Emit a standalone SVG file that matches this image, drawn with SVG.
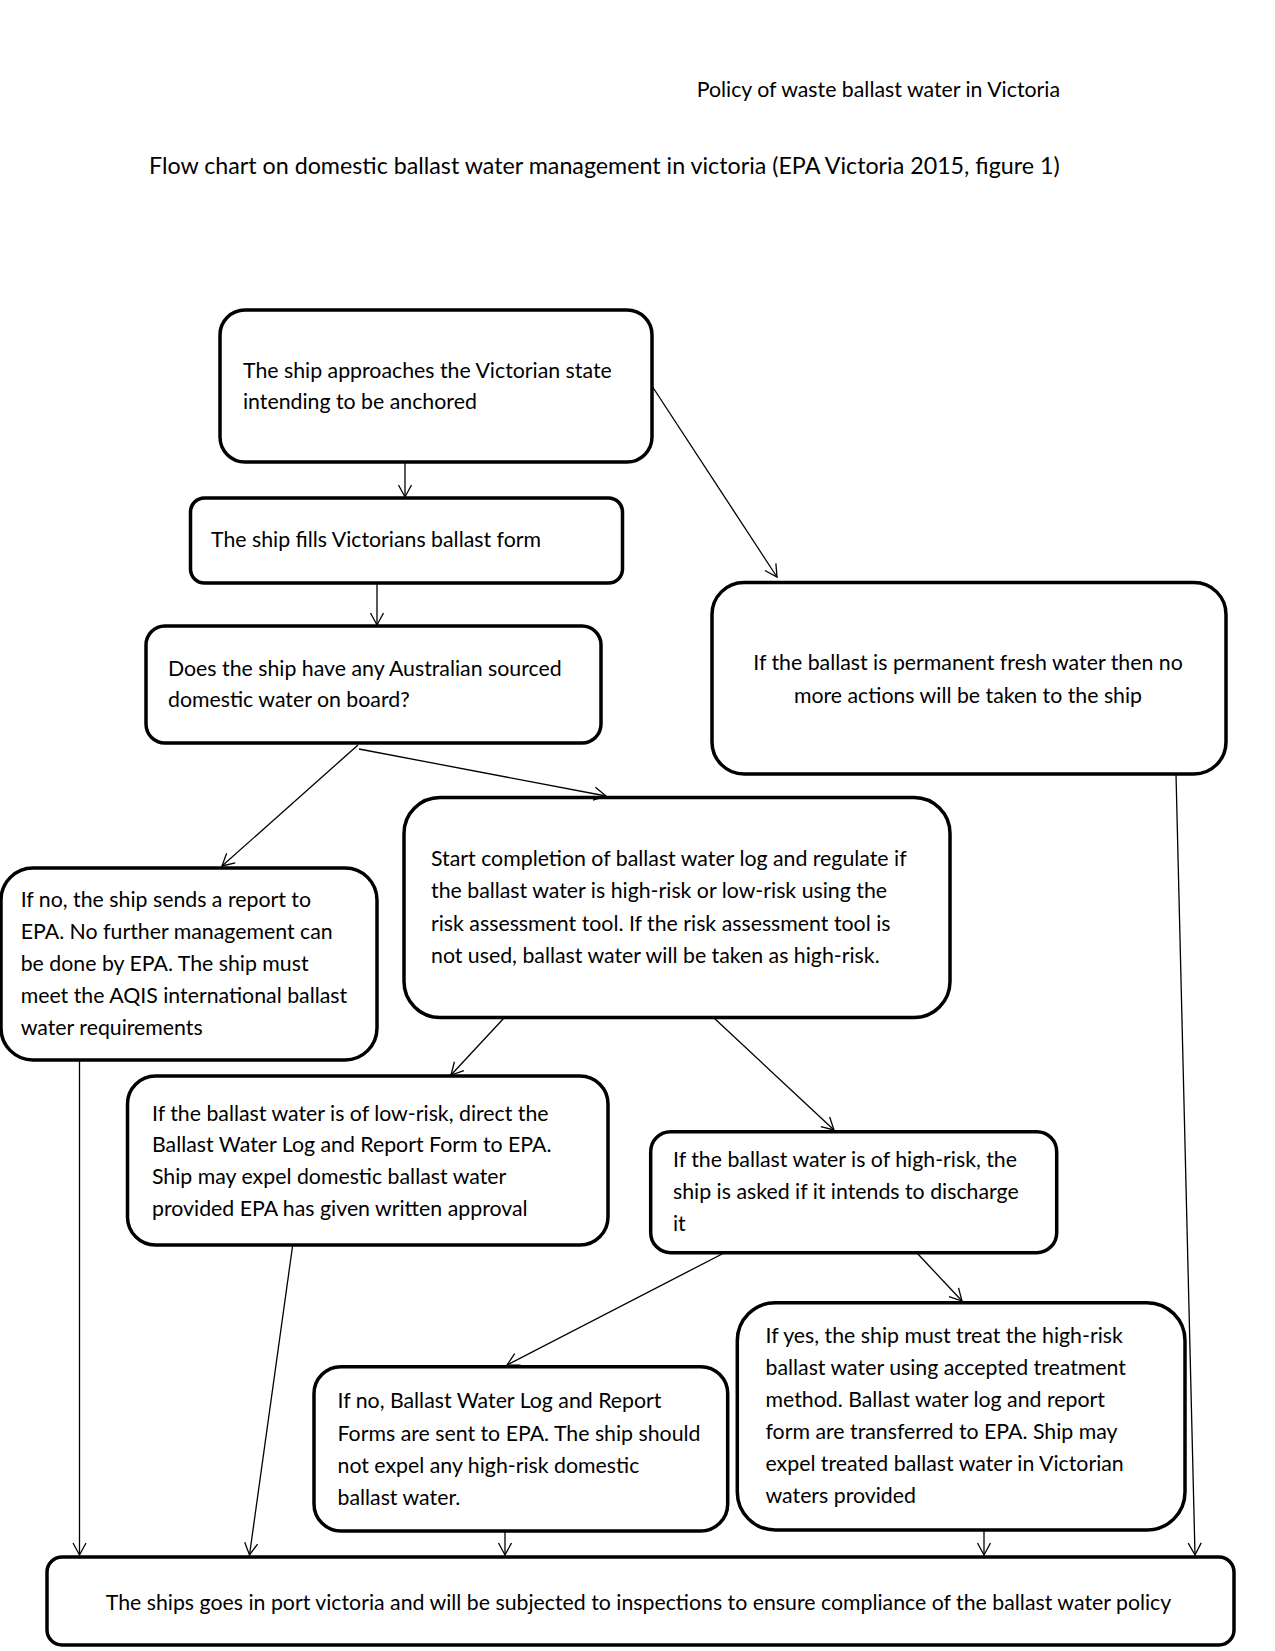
<svg xmlns="http://www.w3.org/2000/svg" width="1275" height="1651" viewBox="0 0 1275 1651">
<style>
.box{fill:#fff;stroke:#000;stroke-width:3.5}
.t{font-family:Lato,"Liberation Sans",sans-serif;font-size:21.3px;fill:#000}
.h{font-family:Lato,"Liberation Sans",sans-serif;fill:#000}
.c line{stroke:#000;stroke-width:1.3;marker-end:url(#ah)}
</style>
<defs>
<marker id="ah" markerUnits="userSpaceOnUse" markerWidth="16" markerHeight="16" refX="12" refY="6.5" orient="auto" overflow="visible">
<path d="M0,0 L12,6.5 L0,13" fill="none" stroke="#000" stroke-width="1.3"/>
</marker>
</defs>
<rect width="1275" height="1651" fill="#fff"/>
<text class="h" x="1060" y="97" font-size="21.3" text-anchor="end">Policy of waste ballast water in Victoria</text>
<text class="h" x="149" y="174" font-size="23.25">Flow chart on domestic ballast water management in victoria (EPA Victoria 2015, figure 1)</text>

<g id="n1"><rect class="box" x="220" y="310" width="432" height="152" rx="25"/>
<text class="t" x="243" y="378">The ship approaches the Victorian state</text>
<text class="t" x="243" y="409">intending to be anchored</text></g>

<g id="n2"><rect class="box" x="190.5" y="498" width="432" height="85" rx="14"/>
<text class="t" x="211" y="547">The ship fills Victorians ballast form</text></g>

<g id="n3"><rect class="box" x="146" y="626" width="455" height="117" rx="19"/>
<text class="t" x="168" y="676">Does the ship have any Australian sourced</text>
<text class="t" x="168" y="707">domestic water on board?</text></g>

<g id="n4"><rect class="box" x="712" y="582.5" width="514" height="191.5" rx="32"/>
<text class="t" x="968" y="670" text-anchor="middle">If the ballast is permanent fresh water then no</text>
<text class="t" x="968" y="703" text-anchor="middle">more actions will be taken to the ship</text></g>

<g id="n5"><rect class="box" x="1" y="868" width="376" height="192" rx="32"/>
<text class="t" x="20.7" y="907">If no, the ship sends a report to</text>
<text class="t" x="20.7" y="939">EPA. No further management can</text>
<text class="t" x="20.7" y="971">be done by EPA. The ship must</text>
<text class="t" x="20.7" y="1003">meet the AQIS international ballast</text>
<text class="t" x="20.7" y="1035">water requirements</text></g>

<g id="n6"><rect class="box" x="404" y="797.5" width="546" height="220" rx="36"/>
<text class="t" x="431" y="866">Start completion of ballast water log and regulate if</text>
<text class="t" x="431" y="898.3">the ballast water is high-risk or low-risk using the</text>
<text class="t" x="431" y="930.7">risk assessment tool. If the risk assessment tool is</text>
<text class="t" x="431" y="963">not used, ballast water will be taken as high-risk.</text></g>

<g id="n7"><rect class="box" x="127.5" y="1076" width="480.5" height="169" rx="28"/>
<text class="t" x="152" y="1120.7">If the ballast water is of low-risk, direct the</text>
<text class="t" x="152" y="1152.3">Ballast Water Log and Report Form to EPA.</text>
<text class="t" x="152" y="1184">Ship may expel domestic ballast water</text>
<text class="t" x="152" y="1215.7">provided EPA has given written approval</text></g>

<g id="n8"><rect class="box" x="650.7" y="1131.7" width="406" height="121" rx="20"/>
<text class="t" x="673" y="1167">If the ballast water is of high-risk, the</text>
<text class="t" x="673" y="1199">ship is asked if it intends to discharge</text>
<text class="t" x="673" y="1231">it</text></g>

<g id="n9"><rect class="box" x="314" y="1366.7" width="413.7" height="164.3" rx="27"/>
<text class="t" x="337.5" y="1408.3">If no, Ballast Water Log and Report</text>
<text class="t" x="337.5" y="1440.7">Forms are sent to EPA. The ship should</text>
<text class="t" x="337.5" y="1472.7">not expel any high-risk domestic</text>
<text class="t" x="337.5" y="1505">ballast water.</text></g>

<g id="n10"><rect class="box" x="737.3" y="1302.7" width="447.7" height="227.3" rx="38"/>
<text class="t" x="765.5" y="1342.7">If yes, the ship must treat the high-risk</text>
<text class="t" x="765.5" y="1375">ballast water using accepted treatment</text>
<text class="t" x="765.5" y="1407">method. Ballast water log and report</text>
<text class="t" x="765.5" y="1439">form are transferred to EPA. Ship may</text>
<text class="t" x="765.5" y="1471">expel treated ballast water in Victorian</text>
<text class="t" x="765.5" y="1503">waters provided</text></g>

<g id="n11"><rect class="box" x="47" y="1557" width="1187" height="88" rx="15"/>
<text class="t" x="638.5" y="1610" text-anchor="middle">The ships goes in port victoria and will be subjected to inspections to ensure compliance of the ballast water policy</text></g>

<g id="connectors" class="c">
<line x1="405" y1="462" x2="405" y2="497"/>
<line x1="377" y1="583" x2="377" y2="625"/>
<line x1="652" y1="386" x2="777" y2="577"/>
<line x1="358" y1="745" x2="222" y2="866"/>
<line x1="359" y1="749" x2="606" y2="796"/>
<line x1="504" y1="1018" x2="451" y2="1075"/>
<line x1="714" y1="1018" x2="834" y2="1130"/>
<line x1="724" y1="1253" x2="507" y2="1365"/>
<line x1="917" y1="1253" x2="962" y2="1301"/>
<line x1="79.5" y1="1060" x2="79.5" y2="1555"/>
<line x1="292.7" y1="1245" x2="249.5" y2="1555"/>
<line x1="505" y1="1531" x2="505" y2="1555"/>
<line x1="984" y1="1530" x2="984" y2="1555"/>
<line x1="1176" y1="774" x2="1195" y2="1555"/>
</g>
</svg>
